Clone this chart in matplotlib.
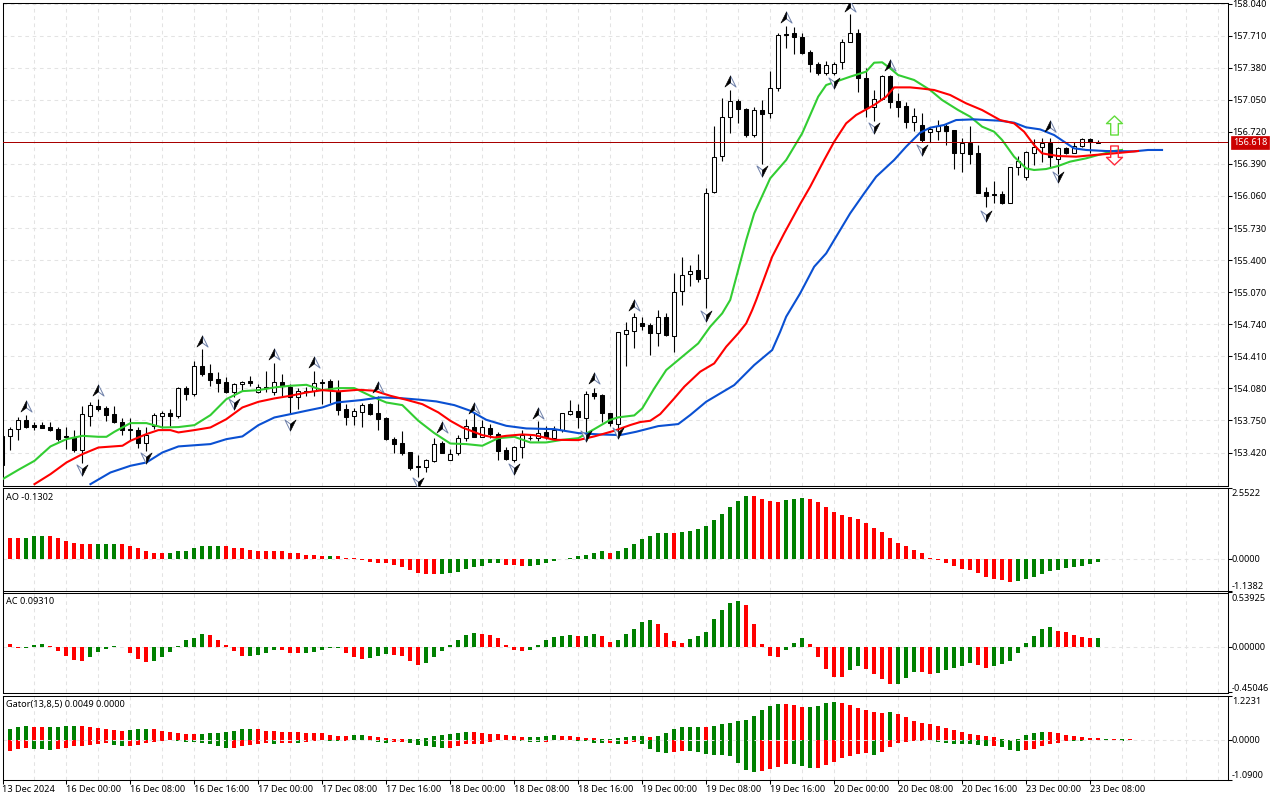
import numpy as np
import matplotlib
matplotlib.use("Agg")
import matplotlib.pyplot as plt
from matplotlib.path import Path

plt.rcParams['font.family'] = ['Noto Sans', 'DejaVu Sans']

# candles, one per hour, first one is 13 Dec 16:00
opens = [
    153.294, 153.592, 153.658, 153.754, 153.699, 153.702, 153.682, 153.658, 153.586, 153.575,
    153.448, 153.798, 153.894, 153.877, 153.812, 153.736, 153.661, 153.647, 153.520, 153.695,
    153.798, 153.832, 153.795, 154.079, 154.025, 154.306, 154.234, 154.172, 154.141, 154.045,
    154.121, 154.151, 154.038, 154.097, 154.038, 154.141, 154.090, 153.994, 154.055, 154.049,
    154.141, 154.151, 154.055, 153.867, 153.791, 153.839, 153.918, 153.826, 153.771, 153.555,
    153.514, 153.421, 153.277, 153.273, 153.335, 153.517, 153.345, 153.411, 153.565, 153.688,
    153.585, 153.675, 153.613, 153.445, 153.345, 153.472, 153.572, 153.565, 153.627, 153.572,
    153.651, 153.815, 153.846, 153.778, 154.028, 154.011, 153.826, 153.712, 154.636, 154.673,
    154.752, 154.728, 154.653, 154.811, 154.618, 155.078, 155.253, 155.294, 155.212, 156.097,
    156.467, 156.869, 157.033, 156.951, 156.690, 156.941, 156.910, 157.167, 157.723, 157.733,
    157.692, 157.537, 157.414, 157.328, 157.321, 157.435, 157.640, 157.733, 157.270, 156.972,
    157.054, 157.291, 157.033, 156.982, 156.824, 156.786, 156.714, 156.732, 156.780, 156.738,
    156.505, 156.601, 156.498, 156.097, 156.076, 156.080, 155.991, 156.354, 156.258, 156.498,
    156.560, 156.601, 156.437, 156.550, 156.505, 156.574, 156.642, 156.601]
highs = [
    153.592, 153.688, 153.781, 153.805, 153.736, 153.736, 153.730, 153.688, 153.688, 153.651,
    153.894, 153.935, 153.970, 153.894, 153.901, 153.771, 153.771, 153.678, 153.678, 153.832,
    153.850, 153.867, 154.090, 154.100, 154.357, 154.484, 154.330, 154.244, 154.193, 154.134,
    154.158, 154.210, 154.124, 154.258, 154.340, 154.227, 154.124, 154.079, 154.090, 154.261,
    154.176, 154.176, 154.165, 153.918, 153.877, 153.929, 153.929, 154.004, 153.781, 153.582,
    153.644, 153.428, 153.393, 153.352, 153.565, 153.541, 153.455, 153.599, 153.764, 153.832,
    153.757, 153.712, 153.627, 153.472, 153.490, 153.651, 153.599, 153.743, 153.695, 153.695,
    153.832, 153.959, 153.918, 154.052, 154.086, 154.021, 153.832, 154.663, 154.766, 154.852,
    154.817, 154.756, 154.886, 154.852, 155.263, 155.428, 155.349, 155.462, 156.138, 156.779,
    157.064, 157.150, 157.061, 156.961, 156.971, 157.047, 157.345, 157.733, 157.808, 157.795,
    157.733, 157.562, 157.435, 157.448, 157.441, 157.671, 157.932, 157.774, 157.373, 157.150,
    157.304, 157.304, 157.123, 157.030, 156.961, 156.910, 156.766, 156.841, 156.807, 156.738,
    156.653, 156.780, 156.584, 156.148, 156.214, 156.111, 156.361, 156.471, 156.526, 156.642,
    156.660, 156.653, 156.567, 156.567, 156.618, 156.653, 156.660, 156.636]
lows = [
    153.294, 153.448, 153.551, 153.668, 153.651, 153.668, 153.640, 153.541, 153.455, 153.428,
    153.311, 153.695, 153.850, 153.747, 153.723, 153.599, 153.548, 153.462, 153.431, 153.661,
    153.668, 153.695, 153.771, 153.963, 154.004, 154.210, 154.100, 154.045, 154.028, 153.987,
    154.055, 154.107, 154.031, 154.038, 154.011, 154.004, 153.815, 153.867, 154.004, 154.004,
    153.918, 153.929, 153.805, 153.702, 153.702, 153.685, 153.805, 153.654, 153.548, 153.414,
    153.393, 153.243, 153.164, 153.222, 153.325, 153.411, 153.339, 153.393, 153.541, 153.575,
    153.575, 153.565, 153.345, 153.345, 153.325, 153.359, 153.548, 153.541, 153.558, 153.558,
    153.634, 153.805, 153.675, 153.627, 153.970, 153.730, 153.695, 153.610, 154.310, 154.492,
    154.680, 154.423, 154.516, 154.618, 154.457, 154.938, 155.133, 155.178, 154.903, 156.093,
    156.423, 156.711, 156.814, 156.670, 156.670, 156.388, 156.862, 157.143, 157.586, 157.520,
    157.520, 157.335, 157.301, 157.304, 157.304, 157.363, 157.640, 157.133, 156.876, 156.834,
    157.047, 156.961, 156.869, 156.762, 156.731, 156.618, 156.618, 156.636, 156.584, 156.337,
    156.310, 156.389, 156.094, 155.943, 155.984, 155.974, 155.991, 156.275, 156.224, 156.378,
    156.413, 156.361, 156.286, 156.488, 156.498, 156.567, 156.505, 156.601]
closes = [
    153.592, 153.661, 153.750, 153.685, 153.685, 153.675, 153.647, 153.558, 153.579, 153.448,
    153.812, 153.905, 153.867, 153.808, 153.736, 153.654, 153.647, 153.517, 153.603, 153.802,
    153.832, 153.798, 154.079, 154.025, 154.306, 154.230, 154.169, 154.138, 154.038, 154.121,
    154.141, 154.131, 154.097, 154.079, 154.141, 154.103, 153.987, 154.049, 154.038, 154.131,
    154.131, 154.073, 153.860, 153.788, 153.843, 153.908, 153.815, 153.767, 153.555, 153.510,
    153.414, 153.263, 153.270, 153.339, 153.510, 153.414, 153.407, 153.565, 153.695, 153.585,
    153.688, 153.606, 153.438, 153.352, 153.472, 153.599, 153.565, 153.620, 153.575, 153.654,
    153.822, 153.843, 153.781, 154.018, 154.004, 153.822, 153.719, 154.656, 154.680, 154.811,
    154.725, 154.653, 154.811, 154.625, 155.068, 155.250, 155.291, 155.209, 156.093, 156.464,
    156.869, 157.033, 156.951, 156.690, 156.941, 156.906, 157.167, 157.712, 157.712, 157.692,
    157.534, 157.414, 157.321, 157.404, 157.414, 157.640, 157.733, 157.270, 156.961, 157.061,
    157.291, 157.030, 156.972, 156.824, 156.879, 156.636, 156.745, 156.780, 156.732, 156.505,
    156.601, 156.491, 156.094, 156.063, 156.066, 155.991, 156.354, 156.416, 156.512, 156.560,
    156.601, 156.457, 156.550, 156.498, 156.574, 156.642, 156.611, 156.618]

# alligator lines: lips / teeth / jaw
lips_bar = [0, 2, 4, 6, 8, 10, 12, 13, 14, 16, 18, 20, 22, 24, 26, 28, 30, 32, 34, 36, 38, 40, 42, 44, 46, 48, 50,
            52, 54, 56, 58, 60, 62, 64, 66, 68, 70, 72, 74, 76, 77, 79, 80, 81.5, 83, 85, 87, 88.5, 90, 91, 93, 94,
            96, 98, 100, 102, 103, 106, 108, 109, 110, 111, 112, 114, 116, 117.5, 119.5, 121, 122.5, 124, 125, 126.5,
            128, 129, 130.5, 132, 133.5, 135.5, 137, 139, 140]
lips_price = [153.146, 153.243, 153.335, 153.483, 153.558, 153.592, 153.582, 153.582, 153.634, 153.723, 153.723,
              153.678, 153.682, 153.702, 153.805, 153.970, 154.052, 154.062, 154.090, 154.107, 154.117, 154.062,
              154.083, 154.083, 154.004, 153.935, 153.908, 153.747, 153.620, 153.513, 153.507, 153.490, 153.568,
              153.582, 153.524, 153.524, 153.551, 153.568, 153.661, 153.757, 153.782, 153.802, 153.874, 154.080,
              154.269, 154.406, 154.543, 154.715, 154.852, 154.990, 155.606, 155.880, 156.241, 156.430, 156.704,
              157.081, 157.201, 157.287, 157.339, 157.431, 157.435, 157.373, 157.304, 157.253, 157.150, 157.047,
              156.944, 156.876, 156.773, 156.721, 156.636, 156.464, 156.344, 156.327, 156.337, 156.368, 156.413,
              156.447, 156.481, 156.522, 156.533]
teeth_bar = [4, 6, 8, 10, 12, 15, 16, 18, 19.5, 21, 22, 24, 26, 28, 30, 32, 34, 36, 38, 40, 42, 44.5, 46.5, 48.5, 50.5,
             52.5, 54.5, 56, 57.5, 60, 61.5, 63, 65, 66.5, 69, 72, 74, 76.5, 78.5, 79.75, 81, 82.25, 84, 85.25, 87.25,
             89, 90.5, 92, 93, 93.75, 94.25, 96.25, 97.75, 99.75, 101, 102.75, 104, 105.5, 106.75, 109, 110.5, 111.5,
             113.5, 114.75, 116.5, 118.5, 120.5, 122.5, 124.75, 126.5, 127.75, 129, 130, 132, 134.25, 136.5, 139, 142]
teeth_price = [153.095, 153.198, 153.318, 153.404, 153.472, 153.490, 153.541, 153.610, 153.651, 153.651, 153.627,
               153.651, 153.678, 153.764, 153.884, 153.942, 153.977, 154.004, 154.038, 154.062, 154.049, 154.066,
               154.056, 154.004, 153.963, 153.918, 153.833, 153.747, 153.678, 153.599, 153.575, 153.592, 153.606,
               153.599, 153.551, 153.548, 153.586, 153.644, 153.703, 153.734, 153.747, 153.816, 153.977, 154.097,
               154.252, 154.337, 154.509, 154.646, 154.749, 154.886, 154.989, 155.435, 155.675, 155.977, 156.155,
               156.430, 156.618, 156.807, 156.893, 156.996, 157.081, 157.177, 157.177, 157.167, 157.150, 157.099,
               157.013, 156.944, 156.841, 156.807, 156.721, 156.584, 156.498, 156.471, 156.464, 156.481, 156.498,
               156.522]
jaw_bar = [11, 13.5, 16, 18, 20, 22, 26, 28, 30, 32, 34, 36, 38, 40, 41.75, 44.75, 47.25, 49.75, 52.25, 54.25, 56.5,
           58.5, 60.5, 63, 65.5, 69, 72, 74.75, 77.25, 79.25, 82, 84.5, 86, 88, 91.5, 94, 96.25, 97.25, 98, 99.75,
           101.5, 103, 104.25, 106, 107.75, 109.25, 111.5, 113, 114.75, 116, 117.75, 119.25, 121.5, 124.75, 126.5,
           128, 129.75, 131.5, 132.75, 134, 135.5, 138, 141.5, 143.25, 145]
jaw_price = [153.095, 153.215, 153.284, 153.318, 153.421, 153.483, 153.507, 153.558, 153.586, 153.702, 153.781,
             153.815, 153.850, 153.884, 153.935, 153.959, 153.987, 153.980, 153.963, 153.946, 153.908, 153.850,
             153.757, 153.695, 153.668, 153.661, 153.620, 153.606, 153.600, 153.634, 153.692, 153.713, 153.806,
             153.943, 154.114, 154.320, 154.475, 154.663, 154.818, 155.058, 155.332, 155.469, 155.641, 155.881,
             156.087, 156.258, 156.430, 156.567, 156.711, 156.762, 156.790, 156.841, 156.848, 156.834, 156.814,
             156.766, 156.745, 156.687, 156.618, 156.550, 156.533, 156.522, 156.519, 156.533, 156.533]

# fractal arrows
frac_up_bar = [3, 12, 25, 34, 39, 47, 55, 59, 67, 74, 79, 91, 98, 106, 111, 131]
frac_up_price = [153.894, 154.062, 154.570, 154.433, 154.347, 154.090, 153.688, 153.874, 153.832, 154.182,
                 154.938, 157.243, 157.898, 158.014, 157.407, 156.780]
frac_dn_bar = [10, 18, 29, 36, 52, 64, 73, 77, 88, 95, 104, 109, 115, 123, 132]
frac_dn_price = [153.239, 153.359, 153.918, 153.706, 153.105, 153.249, 153.592, 153.620, 154.824, 156.316,
                 157.225, 156.755, 156.533, 155.857, 156.251]
signal_bar = 139
signal_up_price = 156.79
signal_dn_price = 156.486
last_price = 156.618

ao_values = [
    .76, .76, .76, .76, .80, .80, .80, .73, .65, .58,
    .51, .51, .51, .51, .51, .51, .44, .37, .26, .22,
    .22, .22, .26, .29, .37, .44, .47, .47, .47, .40,
    .37, .33, .29, .26, .26, .26, .19, .19, .15, .15,
    .11, .11, .11, .04, .01, -.03, -.10, -.14, -.17, -.21,
    -.28, -.39, -.50, -.53, -.53, -.53, -.50, -.46, -.35, -.28,
    -.25, -.17, -.17, -.21, -.21, -.25, -.25, -.21, -.14, -.07,
    -.02, .03, .08, .15, .22, .26, .22, .29, .40, .51,
    .69, .80, .91, .91, .91, .94, 1.01, 1.05, 1.16, 1.37,
    1.59, 1.84, 2.06, 2.24, 2.24, 2.13, 2.06, 2.02, 2.09, 2.13,
    2.17, 2.13, 2.02, 1.84, 1.66, 1.55, 1.48, 1.41, 1.27, 1.09,
    .94, .73, .55, .44, .33, .19, .04, -.04, -.14, -.25,
    -.35, -.39, -.50, -.64, -.71, -.75, -.82, -.79, -.71, -.64,
    -.53, -.43, -.39, -.32, -.28, -.25, -.19, -.13]
ao_colors = ("RRRGGGRRRR" "RRGGGRRRRR" "RGGGGGGGRR" "RRRRRRRRRR" "RGRRRRRRRR" "RRRRRGGGGG" "GGGRRRGGGG"
             "GGGGGGRGGG" "GGGGRGGGGG" "GGGGRRRRGG" "GRRRRRRRRR" "RRRRRRRRRR" "RRRRRRRGGG" "GGGGGGGG")

ac_values = [
    .089, .030, -.007, -.007, .020, .030, .010, -.036, -.089, -.129,
    -.139, -.099, -.050, -.017, .007, -.003, -.059, -.119, -.149, -.139,
    -.099, -.050, .007, .069, .089, .129, .119, .069, .020, -.040,
    -.089, -.089, -.079, -.059, -.030, -.030, -.059, -.059, -.059, -.050,
    -.030, -.007, -.007, -.059, -.099, -.119, -.109, -.089, -.069, -.079,
    -.089, -.139, -.178, -.158, -.099, -.040, .020, .069, .119, .139,
    .129, .119, .089, .020, -.030, -.040, -.030, .020, .069, .099,
    .109, .119, .109, .109, .129, .109, .050, .069, .129, .178,
    .248, .267, .228, .139, .059, .040, .079, .109, .149, .277,
    .366, .436, .455, .416, .228, .030, -.089, -.099, -.030, .040,
    .089, .030, -.099, -.218, -.297, -.297, -.228, -.188, -.218, -.267,
    -.317, -.366, -.366, -.307, -.248, -.248, -.267, -.257, -.228, -.208,
    -.188, -.158, -.178, -.208, -.188, -.168, -.139, -.059, .040, .109,
    .178, .198, .158, .149, .119, .099, .089, .093]
ac_colors = ("RRRGGGRRRR" "RGGGGRRRRG" "GGGGGGRRRR" "RGGGGRRRGG" "GGGRRRGGGR" "RRRGGGGGGG" "RRRRRRGGGG"
             "GGRGGRRGGG" "GGRRRRGGGG" "GGGRRRRRGG" "GRRRRRGGRR" "RRGGGRRGGG" "GGRRGGGGGG" "GGRRRRRG")

gator_up = [
    .239, .294, .350, .377, .350, .350, .350, .350, .377, .377,
    .377, .350, .322, .294, .267, .239, .267, .294, .294, .294,
    .239, .212, .184, .156, .156, .156, .184, .184, .212, .239,
    .294, .294, .294, .239, .239, .212, .212, .212, .184, .184,
    .184, .129, .101, .101, .129, .129, .101, .074, .046, .018,
    .018, .018, .018, .046, .101, .129, .156, .184, .212, .212,
    .184, .156, .156, .129, .101, .074, .074, .074, .101, .129,
    .101, .101, .074, .046, .046, .028, .028, .046, .074, .101,
    .101, .074, .101, .184, .294, .350, .350, .350, .350, .377,
    .432, .460, .515, .543, .653, .819, .929, .984, .984, .957,
    .902, .902, .929, 1.012, 1.040, 1.012, .957, .874, .819, .764,
    .736, .764, .708, .626, .515, .460, .432, .377, .322, .267,
    .212, .156, .129, .101, .074, .018, .010, .037, .129, .184,
    .212, .212, .184, .129, .101, .074, .064, .046, .037, .037,
    .028, .018, .010]
gator_up_colors = ("GGGGRRGGGG" "RRRRRRGGGR" "RRRRRGGGGG" "GGRRRRRRRR" "RRRRGGRRRR" "RGGGGGGGGR" "RRRRRRGGGG"
                   "RRRRRGGGGG" "GRGGGGGGRG" "GGGGGGGGRR" "RGGGGRRRRR" "RGRRRRRRRR" "RRRRRGGGGG" "GRRRRRRRGRGRR")
gator_dn = [
    -.313, -.313, -.258, -.230, -.258, -.258, -.285, -.258, -.230, -.175,
    -.175, -.147, -.120, -.092, -.147, -.175, -.175, -.147, -.092, -.064,
    -.037, -.009, -.037, -.064, -.064, -.092, -.120, -.175, -.230, -.230,
    -.175, -.147, -.120, -.092, -.120, -.092, -.092, -.092, -.064, -.037,
    -.009, -.018, -.037, -.037, -.009, -.009, -.037, -.064, -.092, -.064,
    -.064, -.092, -.147, -.175, -.202, -.230, -.230, -.175, -.120, -.120,
    -.120, -.064, -.009, -.009, -.009, -.037, -.064, -.064, -.064, -.009,
    -.009, -.009, -.018, -.037, -.092, -.092, -.092, -.120, -.120, -.064,
    -.120, -.258, -.340, -.368, -.340, -.313, -.313, -.340, -.396, -.423,
    -.423, -.451, -.644, -.837, -.892, -.865, -.810, -.754, -.672, -.672,
    -.727, -.782, -.782, -.699, -.616, -.506, -.451, -.396, -.368, -.423,
    -.340, -.202, -.092, -.064, -.037, -.037, -.009, -.064, -.092, -.120,
    -.120, -.120, -.147, -.175, -.175, -.202, -.285, -.313, -.285, -.258,
    -.175, -.120, -.092, -.037, -.037, -.037, -.009, -.009, -.009, -.009,
    -.037, -.009, -.009]
gator_dn_colors = ("GRRRGGGRRR" "RRRRGGRRRR" "RRGGGGGGGR" "RRRRGRRGRR" "RGGRRRGGGR" "RGGGGGRRRR" "RRRGGGGGRR"
                   "RGGGGGRGRR" "GGGGRRGGGG" "GGGGGRRRRG" "GGRRRRRRRG" "RRRRRRRGGG" "GGGGRGGGRR" "RRRRGGRRGRGRR")

price_ticks = [158.04, 157.71, 157.38, 157.05, 156.72, 156.39, 156.06, 155.73, 155.40, 155.07, 154.74, 154.41,
               154.08, 153.75, 153.42]
time_labels = ["13 Dec 2024", "16 Dec 00:00", "16 Dec 08:00", "16 Dec 16:00", "17 Dec 00:00", "17 Dec 08:00",
               "17 Dec 16:00", "18 Dec 00:00", "18 Dec 08:00", "18 Dec 16:00", "19 Dec 00:00", "19 Dec 08:00",
               "19 Dec 16:00", "20 Dec 00:00", "20 Dec 08:00", "20 Dec 16:00", "23 Dec 00:00", "23 Dec 08:00"]

GRID = '#e3e3e3'
DASH = (0, (3.5, 3.5))
FS = 6.6
colmap = {'R': '#ff0000', 'G': '#008000'}
W, H = 1280, 800


def panel(top, bottom, ylim):
    # axes placed by pixel rows
    ax = fig.add_axes([2.5 / W, 1 - bottom / H, 1225 / W, (bottom - top) / H])
    ax.set_xlim(0.5 / 8, 1225.5 / 8)
    ax.set_ylim(*ylim)
    for s in ax.spines.values():
        s.set_linewidth(0.75)
    ax.yaxis.tick_right()
    ax.tick_params(axis='y', length=3, width=0.75, labelright=False)
    ax.tick_params(axis='x', length=0, labelbottom=False)
    ax.set_xticks(np.arange(0, len(time_labels) * 8, 8))
    ax.vlines(np.arange(4, 153, 4), *ylim, colors=GRID, lw=0.75, linestyles=[DASH], zorder=0.5)
    return ax


def right_labels(ax, vals, labels, shifts):
    ax.set_yticks(vals)
    for v, lab, dy in zip(vals, labels, shifts):
        ax.annotate(lab, (1, v), xycoords=ax.get_yaxis_transform(), xytext=(4.5, dy - 1), textcoords='offset pixels',
                    va='center', ha='left', fontsize=FS, annotation_clip=False)


fig = plt.figure(figsize=(W / 100, H / 100), dpi=100)

# main window
ax = panel(2.5, 485.5, (153.081, 158.0503))
bars = np.arange(len(opens))
ax.hlines(price_ticks, 0, 153.2, colors=GRID, lw=0.75, linestyles=[DASH], zorder=0.5)
o = np.array(opens)
c = np.array(closes)
ax.vlines(bars, lows, highs, colors='k', lw=0.8, zorder=2)
ax.bar(bars, c - o, bottom=o, width=0.5, color=['white' if x >= 0 else 'black' for x in c - o],
       edgecolor='k', linewidth=0.75, zorder=2.1)
ax.plot(lips_bar, lips_price, color='#32cd32', lw=1.5, zorder=3)
ax.plot(jaw_bar, jaw_price, color='#0a50d2', lw=1.5, zorder=3.1)
ax.plot(teeth_bar, teeth_price, color='#ff0000', lw=1.5, zorder=3.2)
ax.axhline(last_price, color='#a80000', lw=0.72, zorder=3.5)

up_black = Path([(0, 1), (0, -0.25), (-1, -1), (0, 1)], closed=True)
up_white = Path([(0, 1), (0, -0.25), (1, -1), (0, 1)], closed=True)
dn_black = Path([(0, -1), (0, 0.25), (1, 1), (0, -1)], closed=True)
dn_white = Path([(0, -1), (0, 0.25), (-1, 1), (0, -1)], closed=True)
ms = 8
ax.plot(frac_up_bar, frac_up_price, ls='', marker=up_white, ms=ms, mfc='white', mec='#6d7fa8', mew=0.7, zorder=4)
ax.plot(frac_up_bar, frac_up_price, ls='', marker=up_black, ms=ms, mfc='black', mec='black', mew=0.4, zorder=4.1)
ax.plot(frac_dn_bar, frac_dn_price, ls='', marker=dn_white, ms=ms, mfc='white', mec='#6d7fa8', mew=0.7, zorder=4)
ax.plot(frac_dn_bar, frac_dn_price, ls='', marker=dn_black, ms=ms, mfc='black', mec='black', mew=0.4, zorder=4.1)

arrow_up = Path([(0, 1), (0.84, 0.2), (0.4, 0.2), (0.4, -1), (-0.4, -1), (-0.4, 0.2), (-0.84, 0.2), (0, 1)], closed=True)
arrow_dn = Path([(0, -1), (0.84, -0.2), (0.4, -0.2), (0.4, 1), (-0.4, 1), (-0.4, -0.2), (-0.84, -0.2), (0, -1)], closed=True)
ax.plot([signal_bar], [signal_up_price], marker=arrow_up, ms=13.7, mfc='none', mec='#62dc3c', mew=1.0, zorder=5)
ax.plot([signal_bar], [signal_dn_price], marker=arrow_dn, ms=13.7, mfc='none', mec='#ff2a3c', mew=1.0, zorder=5)

right_labels(ax, price_ticks, [f"{p:.3f}" for p in price_ticks], [0] * len(price_ticks))
ax.annotate(f"{last_price:.3f}", (1, last_price), xycoords=ax.get_yaxis_transform(), xytext=(5.5, -0.5),
            textcoords='offset pixels', va='center', ha='left', fontsize=FS, color='white', annotation_clip=False,
            bbox=dict(boxstyle='square,pad=0.22', fc='#cc0000', ec='#cc0000', lw=0.5), zorder=6)

# AO
ax1 = panel(487.5, 590.5, (-1.1382, 2.5522))
ax1.axhline(0, color=GRID, lw=0.75, ls=DASH, zorder=0.6)
ax1.bar(bars, ao_values, width=0.5, color=[colmap[x] for x in ao_colors], zorder=2)
right_labels(ax1, [2.5522, 0, -1.1382], ["2.5522", "0.0000", "-1.1382"], [-5, 0, 5])

# AC
ax2 = panel(592.5, 692.5, (-0.45046, 0.53925))
ax2.axhline(0, color=GRID, lw=0.75, ls=DASH, zorder=0.6)
ax2.bar(bars, ac_values, width=0.5, color=[colmap[x] for x in ac_colors], zorder=2)
right_labels(ax2, [0.53925, 0, -0.45046], ["0.53925", "0.00000", "-0.45046"], [-5, 0, 5])

# Gator
ax3 = panel(695.5, 779.5, (-1.09, 1.2231))
gator_bars = np.arange(len(gator_up))
ax3.bar(gator_bars, gator_up, width=0.5, color=[colmap[x] for x in gator_up_colors], zorder=2)
ax3.bar(gator_bars, gator_dn, width=0.5, color=[colmap[x] for x in gator_dn_colors], zorder=2)
ax3.axhline(0, color=GRID, lw=0.75, ls=DASH, zorder=2.5)
right_labels(ax3, [1.2231, 0, -1.09], ["1.2231", "0.0000", "-1.0900"], [-5, 0, 5])

for a, name in [(ax1, "AO -0.1302"), (ax2, "AC 0.09310"), (ax3, "Gator(13,8,5) 0.0049 0.0000")]:
    a.annotate(name, (0, 1), xycoords='axes fraction', xytext=(3, -9.5), textcoords='offset pixels',
               va='center', ha='left', fontsize=FS)

# time axis
ax3.tick_params(axis='x', length=3, width=0.75, labelbottom=False)
for i, lab in enumerate(time_labels):
    ax3.annotate(lab, (i * 8, 0), xycoords=ax3.get_xaxis_transform(), xytext=(0, -9.5), textcoords='offset pixels',
                 va='center', ha='left', fontsize=FS, annotation_clip=False)

fig.savefig("out.png", dpi=100, facecolor='white')
